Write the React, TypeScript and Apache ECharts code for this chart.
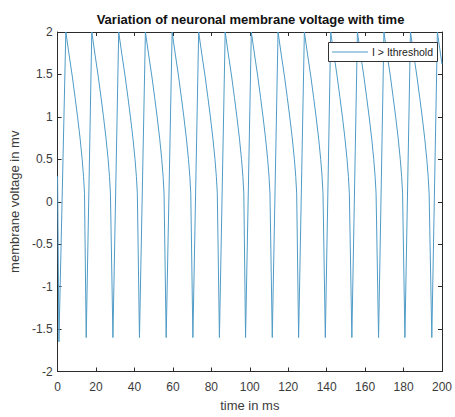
import React, { useEffect, useRef } from "react";
import * as echarts from "echarts";

const seriesName = "I > Ithreshold";
const titleText = "Variation of neuronal membrane voltage with time";
const xAxisName = "time in ms";
const yAxisName = "membrane voltage in mv";

const timeMs: number[] = [
  0, 0.7, 4.3, 6.0, 7.7, 9.1, 10.4, 11.7, 12.8, 13.5, 14.0, 14.9,
  17.8, 19.5, 21.2, 22.6, 23.9, 25.2, 26.3, 27.0, 27.5, 28.8,
  31.8, 33.5, 35.2, 36.6, 37.9, 39.2, 40.3, 41.0, 41.5, 42.6,
  45.7, 47.4, 49.1, 50.5, 51.8, 53.1, 54.2, 54.9, 55.4, 56.5,
  59.6, 61.3, 63.0, 64.4, 65.7, 67.0, 68.1, 68.8, 69.3, 70.4,
  73.4, 75.1, 76.8, 78.2, 79.5, 80.8, 81.9, 82.6, 83.1, 84.2,
  87.2, 88.9, 90.6, 92.0, 93.3, 94.6, 95.7, 96.4, 96.9, 97.8,
  100.8, 102.5, 104.2, 105.6, 106.9, 108.2, 109.3, 110.0, 110.5, 111.7,
  114.7, 116.4, 118.1, 119.5, 120.8, 122.1, 123.2, 123.9, 124.4, 125.4,
  128.4, 130.1, 131.8, 133.2, 134.5, 135.8, 136.9, 137.6, 138.1, 139.3,
  142.1, 143.8, 145.5, 146.9, 148.2, 149.5, 150.6, 151.3, 151.8, 153.1,
  156.0, 157.7, 159.4, 160.8, 162.1, 163.4, 164.5, 165.2, 165.7, 167.0,
  169.8, 171.5, 173.2, 174.6, 175.9, 177.2, 178.3, 179.0, 179.5, 180.7,
  183.6, 185.3, 187.0, 188.4, 189.7, 191.0, 192.1, 192.8, 193.3, 194.7,
  197.6, 199.3, 200,
];

const voltageMv: number[] = [
  0.3, -1.65, 2.0, 1.73, 1.47, 1.23, 1.0, 0.75, 0.5, 0.3, 0.1, -1.6,
  2.0, 1.73, 1.47, 1.23, 1.0, 0.75, 0.5, 0.3, 0.1, -1.6,
  2.0, 1.73, 1.47, 1.23, 1.0, 0.75, 0.5, 0.3, 0.1, -1.6,
  2.0, 1.73, 1.47, 1.23, 1.0, 0.75, 0.5, 0.3, 0.1, -1.6,
  2.0, 1.73, 1.47, 1.23, 1.0, 0.75, 0.5, 0.3, 0.1, -1.6,
  2.0, 1.73, 1.47, 1.23, 1.0, 0.75, 0.5, 0.3, 0.1, -1.6,
  2.0, 1.73, 1.47, 1.23, 1.0, 0.75, 0.5, 0.3, 0.1, -1.6,
  2.0, 1.73, 1.47, 1.23, 1.0, 0.75, 0.5, 0.3, 0.1, -1.6,
  2.0, 1.73, 1.47, 1.23, 1.0, 0.75, 0.5, 0.3, 0.1, -1.6,
  2.0, 1.73, 1.47, 1.23, 1.0, 0.75, 0.5, 0.3, 0.1, -1.6,
  2.0, 1.73, 1.47, 1.23, 1.0, 0.75, 0.5, 0.3, 0.1, -1.6,
  2.0, 1.73, 1.47, 1.23, 1.0, 0.75, 0.5, 0.3, 0.1, -1.6,
  2.0, 1.73, 1.47, 1.23, 1.0, 0.75, 0.5, 0.3, 0.1, -1.6,
  2.0, 1.73, 1.47, 1.23, 1.0, 0.75, 0.5, 0.3, 0.1, -1.6,
  2.0, 1.73, 1.62,
];

const xRange = { min: 0, max: 200, interval: 20 };
const yRange = { min: -2, max: 2, interval: 0.5 };

const FONT = "'Liberation Sans', Arial, Helvetica, sans-serif";
const AXIS_COLOR = "#2b2b2b";
const LABEL_COLOR = "#3c3c3c";
const LINE_COLOR = "#4f9bc6";

export default function App() {
  const ref = useRef<HTMLDivElement>(null);

  useEffect(() => {
    if (!ref.current) return;
    const chart = echarts.init(ref.current, undefined, { renderer: "svg" });

    const tick = {
      show: true,
      inside: true,
      length: 4,
      lineStyle: { color: AXIS_COLOR, width: 1 },
    };
    const axisLine = { show: true, onZero: false, lineStyle: { color: AXIS_COLOR, width: 1 } };

    chart.setOption({
      animation: false,
      backgroundColor: "#ffffff",
      textStyle: { fontFamily: FONT },
      title: {
        text: titleText,
        left: 250.5,
        textAlign: "center",
        top: 13,
        padding: 0,
        textStyle: { fontFamily: FONT, fontSize: 13, fontWeight: "bold", color: "#111" },
      },
      graphic: [
        {
          type: "rect",
          x: 328,
          y: 42,
          z: 100,
          zlevel: 0,
          shape: { x: 0.5, y: 0.5, width: 109, height: 19 },
          style: { fill: "#ffffff", stroke: "#333333", lineWidth: 1 },
        },
        {
          type: "line",
          x: 328,
          y: 42,
          z: 101,
          shape: { x1: 4, y1: 10, x2: 40, y2: 10 },
          style: { stroke: LINE_COLOR, lineWidth: 1 },
        },
        {
          type: "text",
          x: 372,
          y: 52,
          z: 101,
          style: {
            text: seriesName,
            fill: "#222222",
            font: `10.5px ${FONT}`,
            verticalAlign: "middle",
            align: "left",
          },
        },
      ],
      grid: { left: 53.3, right: 7.5, top: 32, bottom: 40.3, containLabel: false },
      xAxis: [
        {
          type: "value",
          min: xRange.min,
          max: xRange.max,
          interval: xRange.interval,
          name: xAxisName,
          nameLocation: "middle",
          nameGap: 27.5,
          nameTextStyle: { fontFamily: FONT, fontSize: 13, color: LABEL_COLOR },
          axisLine,
          axisTick: tick,
          axisLabel: { fontFamily: FONT, fontSize: 12, color: LABEL_COLOR, margin: 9 },
          splitLine: { show: false },
        },
        {
          type: "value",
          position: "top",
          min: xRange.min,
          max: xRange.max,
          interval: xRange.interval,
          axisLine,
          axisTick: tick,
          axisLabel: { show: false },
          splitLine: { show: false },
        },
      ],
      yAxis: [
        {
          type: "value",
          min: yRange.min,
          max: yRange.max,
          interval: yRange.interval,
          name: yAxisName,
          nameLocation: "middle",
          nameRotate: 90,
          nameGap: 33,
          nameTextStyle: { fontFamily: FONT, fontSize: 13, color: LABEL_COLOR },
          axisLine,
          axisTick: tick,
          axisLabel: { fontFamily: FONT, fontSize: 12, color: LABEL_COLOR, margin: 5 },
          splitLine: { show: false },
        },
        {
          type: "value",
          position: "right",
          min: yRange.min,
          max: yRange.max,
          interval: yRange.interval,
          axisLine,
          axisTick: tick,
          axisLabel: { show: false },
          splitLine: { show: false },
        },
      ],
      series: [
        {
          name: seriesName,
          type: "line",
          xAxisIndex: 0,
          yAxisIndex: 0,
          z: 2,
          symbol: "none",
          showSymbol: false,
          color: LINE_COLOR,
          lineStyle: { color: LINE_COLOR, width: 1 },
          data: timeMs.map((t, i) => [t, voltageMv[i]]),
        },
      ],
    });

    return () => chart.dispose();
  }, []);

  return (
    <div
      ref={ref}
      style={{ position: "fixed", left: 0, top: 0, width: 455, height: 417 }}
    />
  );
}
